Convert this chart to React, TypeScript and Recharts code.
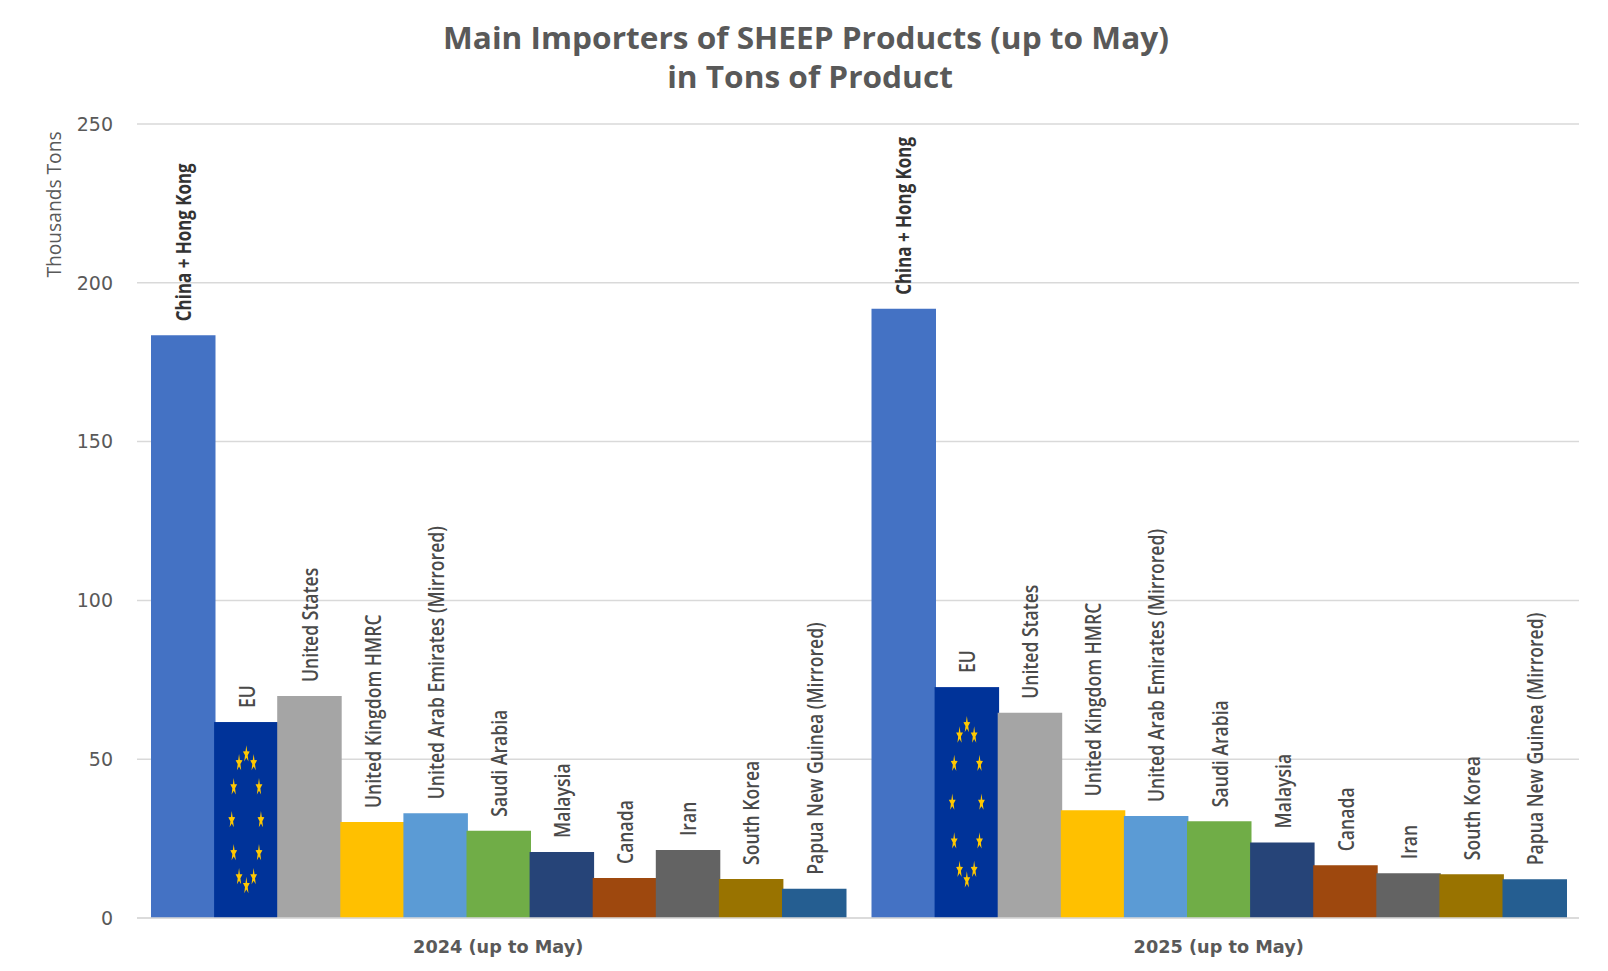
import * as React from "react";
import { BarChart, Bar, XAxis, YAxis, CartesianGrid, LabelList } from "recharts";

// Thousand tons
const periods = ["2024 (up to May)", "2025 (up to May)"];
const importers = [
  "China + Hong Kong",
  "EU",
  "United States",
  "United Kingdom HMRC",
  "United Arab Emirates (Mirrored)",
  "Saudi Arabia",
  "Malaysia",
  "Canada",
  "Iran",
  "South Korea",
  "Papua New Guinea (Mirrored)",
];
const colors = [
  "#4472C4", "#003399", "#A5A5A5", "#FFC000", "#5B9BD5", "#70AD47",
  "#264478", "#9E480E", "#636363", "#997300", "#255E91",
];
const values2024 = [183.5, 61.7, 69.9, 30.2, 33, 27.5, 20.8, 12.6, 21.4, 12.3, 9.2];
const values2025 = [191.8, 72.7, 64.6, 33.9, 32.1, 30.5, 23.8, 16.6, 14.1, 13.8, 12.2];
const yTicks = [0, 50, 100, 150, 200, 250];

const rows = periods.map((period, p) => {
  const row: Record<string, string | number> = { period };
  importers.forEach((name, i) => {
    row[name] = (p === 0 ? values2024 : values2025)[i];
  });
  return row;
});

const GREY = "#595959";
const LINE = "#D9D9D9";
const FRAME = "#CFCFCF";
const FONT = "'Open Sans', sans-serif";

/** One squeezed flag star, the source image is stretched so they come out tall and thin. */
function starPoints(cx: number, cy: number) {
  const pts: string[] = [];
  for (let i = 0; i < 10; i++) {
    const a = (i * Math.PI) / 5 - Math.PI / 2;
    const r = i % 2 === 0 ? 1 : 0.4;
    pts.push(`${cx + 3.6 * r * Math.cos(a)},${cy + 9 * r * Math.sin(a)}`);
  }
  return pts.join(" ");
}

/** EU bar: a flag stretched to the bar, stars on an ellipse around its middle. */
function FlagBar(props: any) {
  const { x, y, width, height } = props;
  const cx = x + width / 2;
  const cy = y + height / 2;
  const stars = Array.from({ length: 12 }, (_, i) => {
    const a = (i * Math.PI) / 6;
    return (
      <polygon
        key={i}
        points={starPoints(cx + 14.6 * Math.sin(a), cy - 0.336 * height * Math.cos(a))}
        fill="#FFC800"
      />
    );
  });
  return (
    <g>
      <rect x={x} y={y} width={width} height={height} fill="#003399" />
      {stars}
    </g>
  );
}

function importerLabel(name: string) {
  const bold = name === importers[0];
  return (props: any) => {
    const { x, y, width } = props;
    const cx = x + width / 2 - (bold ? 1 : 0);
    const by = y - 14;
    return (
      <text
        transform={`translate(${cx},${by}) rotate(-90) scale(${bold ? 0.77 : 0.8},1)`}
        dominantBaseline="central"
        fontFamily={FONT}
        fontSize={22}
        fontWeight={bold ? 700 : 600}
        fill={bold ? "#333333" : "#4A4A4A"}
      >
        {name}
      </text>
    );
  };
}

export default function App() {
  return (
    <div style={{ margin: -8, width: 1608, height: 971, background: "#fff", position: "relative", overflow: "hidden" }}>
      <BarChart
        width={1608}
        height={971}
        data={rows}
        margin={{ top: 124, right: 29, bottom: 0, left: 0 }}
        barSize={64.5}
        barGap={-1.4}
      >
        {/* frame of the original slide, open on the right */}
        <path d="M1608 2 H4 V969 H1608" fill="none" stroke={FRAME} strokeWidth={2} />
        <text
          transform="translate(806,37) scale(1.037,1)"
          textAnchor="middle"
          dominantBaseline="central"
          fontFamily={FONT}
          fontSize={30.5}
          fontWeight={700}
          fill={GREY}
        >
          Main Importers of SHEEP Products (up to May)
        </text>
        <text
          transform="translate(810,76) scale(1.037,1)"
          textAnchor="middle"
          dominantBaseline="central"
          fontFamily={FONT}
          fontSize={30.5}
          fontWeight={700}
          fill={GREY}
        >
          in Tons of Product
        </text>
        <text
          transform="translate(53,204.5) rotate(-90) scale(0.96,1)"
          textAnchor="middle"
          dominantBaseline="central"
          fontFamily={FONT}
          fontSize={20}
          fill={GREY}
        >
          Thousands Tons
        </text>
        <CartesianGrid vertical={false} stroke={LINE} strokeWidth={1.5} />
        <XAxis
          dataKey="period"
          height={53}
          padding={{ left: 1, right: 0 }}
          axisLine={{ stroke: LINE, strokeWidth: 1.5 }}
          tickLine={false}
          tickMargin={16}
          tick={{ fontFamily: "'DejaVu Sans', sans-serif", fontSize: 17.7, fontWeight: 700, fill: GREY }}
        />
        <YAxis
          width={137}
          domain={[0, 250]}
          ticks={yTicks}
          axisLine={false}
          tickLine={false}
          tickMargin={18}
          tick={{ fontFamily: "'DejaVu Sans', sans-serif", fontSize: 19, fill: GREY }}
        />
        {importers.map((name, i) => (
          <Bar
            key={name}
            dataKey={name}
            fill={colors[i]}
            isAnimationActive={false}
            shape={name === "EU" ? FlagBar : undefined}
          >
            <LabelList dataKey={name} content={importerLabel(name)} />
          </Bar>
        ))}
      </BarChart>
    </div>
  );
}
